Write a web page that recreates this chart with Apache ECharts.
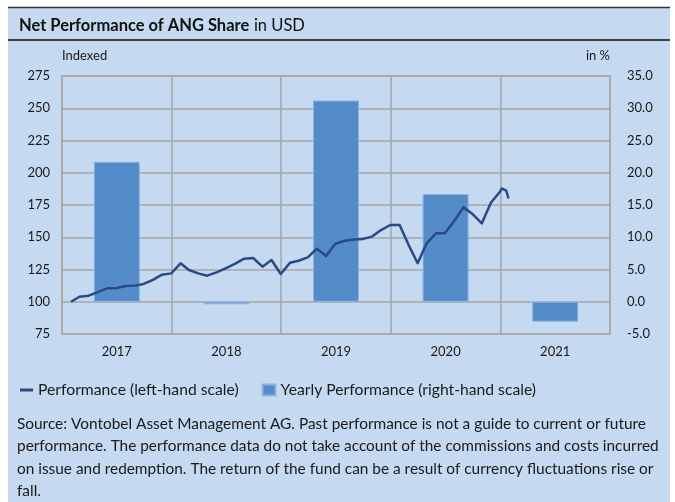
<!DOCTYPE html>
<html>
<head>
<meta charset="utf-8">
<script src="https://cdn.jsdelivr.net/npm/echarts@6/dist/echarts.min.js"></script>
<style>
  html, body { margin: 0; padding: 0; background: #ffffff; }
  #main { width: 675px; height: 502px; }
</style>
</head>
<body>
<div id="main"></div>
<script>
var years = ['2017', '2018', '2019', '2020', '2021'];
var yearlyPerf = [21.7, -0.4, 31.2, 16.7, -3.1];

// month-end index levels, plus a few January 2021 points
var perfDates = [
    '2017-01-31', '2017-02-28', '2017-03-31', '2017-04-30', '2017-05-31', '2017-06-30',
    '2017-07-31', '2017-08-31', '2017-09-30', '2017-10-31', '2017-11-30', '2017-12-31',
    '2018-01-31', '2018-02-28', '2018-03-31', '2018-04-30', '2018-05-31', '2018-06-30',
    '2018-07-31', '2018-08-31', '2018-09-30', '2018-10-31', '2018-11-30', '2018-12-31',
    '2019-01-31', '2019-02-28', '2019-03-31', '2019-04-30', '2019-05-31', '2019-06-30',
    '2019-07-31', '2019-08-31', '2019-09-30', '2019-10-31', '2019-11-30', '2019-12-31',
    '2020-01-31', '2020-02-29', '2020-03-31', '2020-04-30', '2020-05-31', '2020-06-30',
    '2020-07-31', '2020-08-31', '2020-09-30', '2020-10-31', '2020-11-30', '2020-12-31',
    '2021-01-05', '2021-01-20', '2021-01-28'
];
var perfValues = [
    100, 103.9, 104.7, 107.5, 110.4, 110.4, 112.2, 112.5, 113.8, 116.9, 121, 122,
    129.8, 124.6, 122, 120.2, 122.8, 125.9, 129.3, 133.4, 133.9, 127.2, 132.4, 121.5,
    130.3, 131.8, 134.4, 141.1, 135.5, 144.8, 147.3, 148.3, 148.6, 150.5, 155.6, 159.5,
    159.5, 144.5, 129.8, 145.3, 153.1, 153.1, 162.6, 173.2, 168, 160.8, 176.8, 185.5,
    187.8, 186.1, 180.2
];

var leftTicks = { min: 75, max: 275, step: 25 };
var rightTicks = { min: -5, max: 35, step: 5 };

var sourceText = 'Source: Vontobel Asset Management AG. Past performance is not a guide to current or future\n' +
    'performance. The performance data do not take account of the commissions and costs incurred\n' +
    'on issue and redemption. The return of the fund can be a result of currency fluctuations rise or\n' +
    'fall.';

var lineData = [];
for (var i = 0; i < perfDates.length; ++i) {
    lineData.push([perfDates[i], perfValues[i]]);
}

var font = 'Lato';
var txt = '#1a1a1a';
var gridCol = '#A6A6A6';

var myChart = echarts.init(document.getElementById('main'));

var option = {
    animation: false,
    backgroundColor: '#ffffff',
    textStyle: { fontFamily: font },
    title: {
        left: 14,
        top: 12,
        text: '{b|Net Performance of ANG Share} {r|in USD}',
        textStyle: {
            fontWeight: 'normal',
            rich: {
                b: { fontFamily: font, fontWeight: 'bold', fontSize: 16.5, color: '#111' },
                r: { fontFamily: font, fontWeight: 'normal', fontSize: 16.5, color: '#111' }
            }
        }
    },
    graphic: [
        { type: 'rect', z: -10, shape: { x: 8, y: 7, width: 662, height: 495 }, style: { fill: '#C5D9F1' } },
        { type: 'line', z: -9, shape: { x1: 8, y1: 7.5, x2: 670, y2: 7.5 }, style: { stroke: '#333', lineWidth: 1.5 } },
        { type: 'line', z: -9, shape: { x1: 8, y1: 40, x2: 670, y2: 40 }, style: { stroke: '#404040', lineWidth: 2 } },
        {
            type: 'text', left: 17, top: 413,
            style: { text: sourceText, fontFamily: font, fontSize: 15.4, lineHeight: 22.3, fill: txt }
        }
    ],
    legend: {
        left: 15,
        top: 377,
        itemWidth: 13,
        itemHeight: 11,
        itemGap: 23,
        textStyle: { fontFamily: font, fontSize: 15.7, color: txt },
        data: [
            { name: 'Performance (left-hand scale)', icon: 'path://M0,0H13V3H0Z' },
            { name: 'Yearly Performance (right-hand scale)', icon: 'rect' }
        ]
    },
    grid: {
        left: 62,
        right: 65,
        top: 76,
        bottom: 168,
        show: true,
        borderColor: gridCol,
        borderWidth: 1.5,
        backgroundColor: 'transparent'
    },
    xAxis: [{
        type: 'category',
        data: years,
        axisLine: { show: false },
        axisTick: { show: false },
        axisLabel: { fontFamily: font, fontSize: 13, color: txt, margin: 11 },
        splitLine: { show: true, lineStyle: { color: gridCol, width: 1.5 } }
    }, {
        type: 'time',
        show: false,
        min: new Date(2017, 0, 1).getTime(),
        max: new Date(2022, 0, 1).getTime()
    }],
    yAxis: [{
        type: 'value',
        min: leftTicks.min,
        max: leftTicks.max,
        interval: leftTicks.step,
        name: 'Indexed',
        nameLocation: 'end',
        nameGap: 14,
        nameTextStyle: { fontFamily: font, fontSize: 13, color: txt, align: 'left' },
        axisLine: { show: false },
        axisTick: { show: false },
        axisLabel: { fontFamily: font, fontSize: 13, color: txt, margin: 12 },
        splitLine: { show: true, lineStyle: { color: gridCol, width: 1.5 } }
    }, {
        type: 'value',
        position: 'right',
        min: rightTicks.min,
        max: rightTicks.max,
        interval: rightTicks.step,
        name: 'in %',
        nameLocation: 'end',
        nameGap: 14,
        nameTextStyle: { fontFamily: font, fontSize: 13, color: txt, align: 'right' },
        axisLine: { show: false },
        axisTick: { show: false },
        axisLabel: {
            fontFamily: font, fontSize: 13, color: txt, margin: 17,
            formatter: function (v) { return v.toFixed(1); }
        },
        splitLine: { show: false }
    }],
    series: [{
        name: 'Yearly Performance (right-hand scale)',
        type: 'bar',
        xAxisIndex: 0,
        yAxisIndex: 1,
        barWidth: '42%',
        data: yearlyPerf,
        itemStyle: { color: '#538CC8', borderColor: '#8DB3E2', borderWidth: 1 },
        z: 2
    }, {
        name: 'Performance (left-hand scale)',
        type: 'line',
        xAxisIndex: 1,
        yAxisIndex: 0,
        showSymbol: false,
        data: lineData,
        itemStyle: { color: '#2A4A86' },
        lineStyle: { color: '#2A4A86', width: 2.5, join: 'round' },
        z: 3
    }]
};
myChart.setOption(option);
</script>
</body>
</html>
